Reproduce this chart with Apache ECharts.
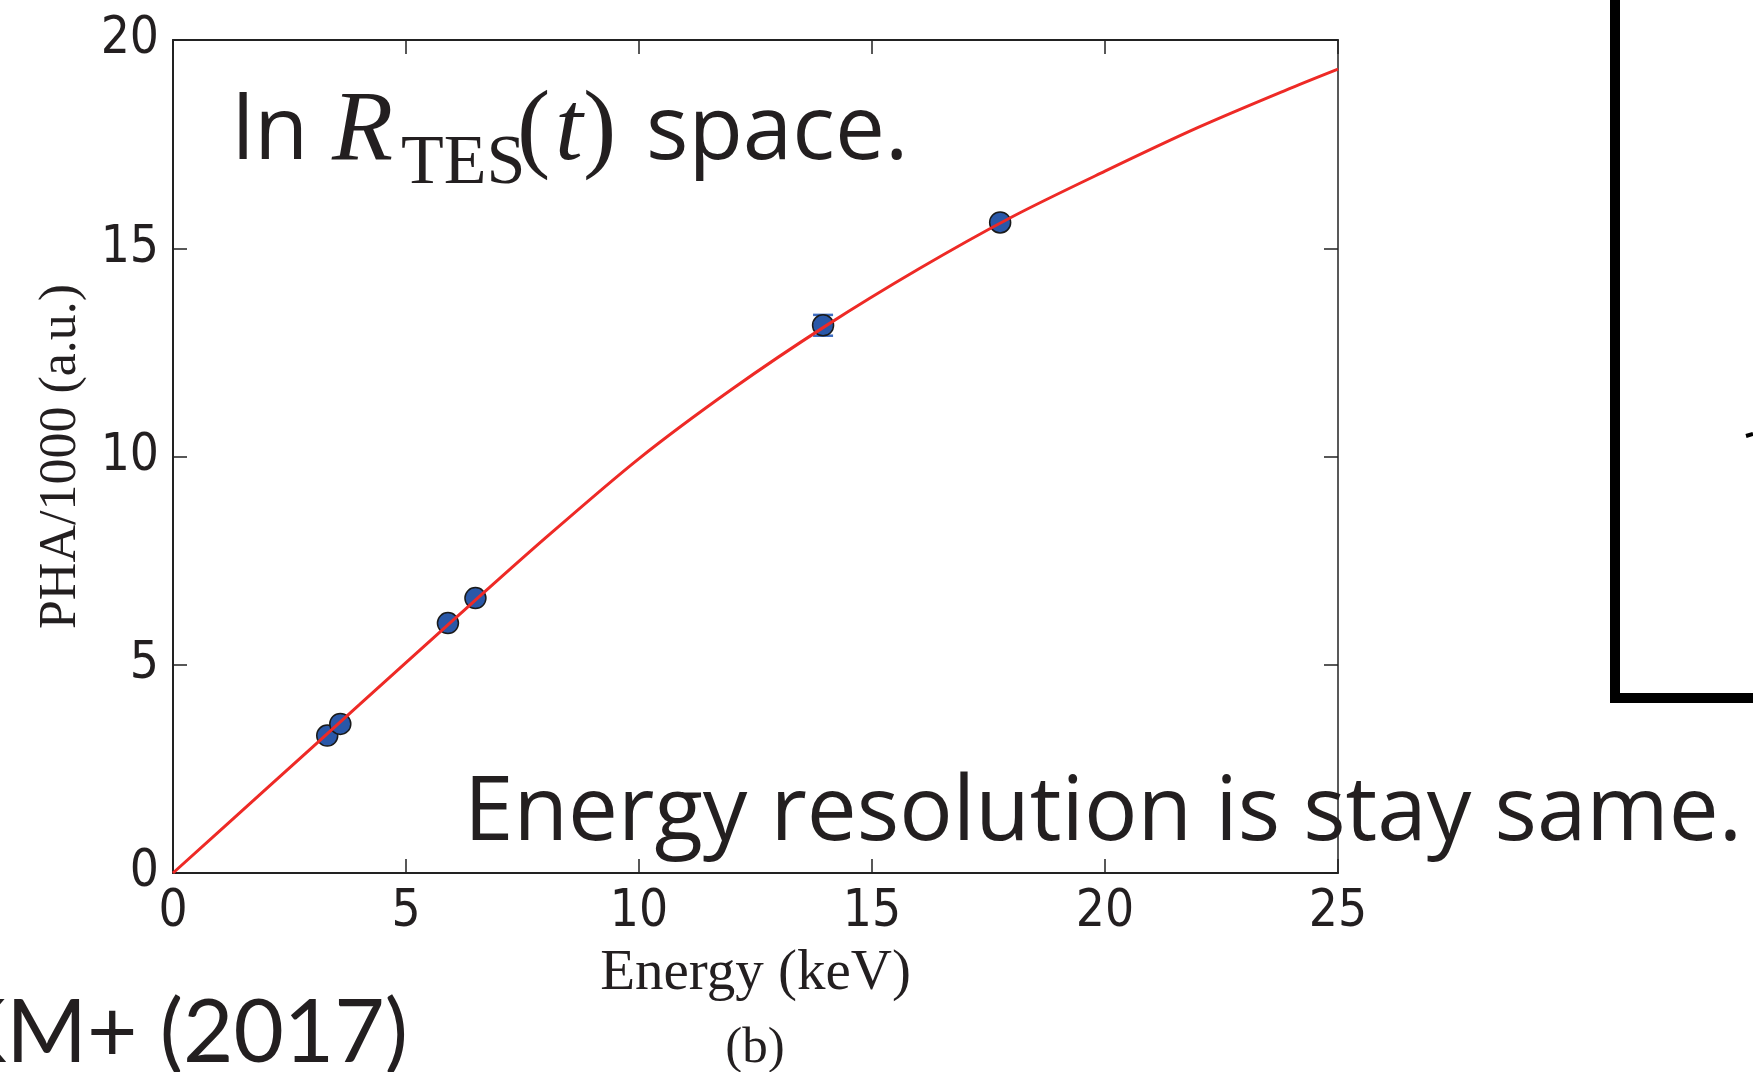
<!DOCTYPE html>
<html>
<head>
<meta charset="utf-8">
<script src="https://cdn.jsdelivr.net/npm/echarts@6/dist/echarts.min.js"></script>
<style>
    html, body { margin: 0; padding: 0; background: #fff; }
    #chart { width: 1753px; height: 1072px; }
</style>
</head>
<body>
<div id="chart"></div>
<script>
/*data*/
const pointEnergy = [3.31, 3.59, 5.90, 6.49, 13.95, 17.75];
const pointPha = [3.30, 3.58, 6.00, 6.60, 13.15, 15.62];
const pointErr = [0.05, 0.05, 0.05, 0.05, 0.25, 0.08];

const curveEnergy = [0, 2, 4, 6, 8, 10, 12, 14, 16, 18, 20, 22, 24, 25];
const curvePha = [0, 2.02, 4.04, 6.06, 8.05, 9.95, 11.62, 13.13, 14.5, 15.75, 16.85, 17.9, 18.85, 19.3];

const xTicks = [0, 5, 10, 15, 20, 25];
const yTicks = [0, 5, 10, 15, 20];

(function () {
    const el = document.getElementById('chart');
    const chart = echarts.init(el, null, {renderer: 'canvas'});

    const ink = '#231f20';
    const axisColor = '#222';
    const tickFont = '"DejaVu Sans Condensed", "DejaVu Sans", sans-serif';
    const serif = '"Liberation Serif", "DejaVu Serif", serif';
    const sans = '"Open Sans", Lato, sans-serif';
    const gill = 'Lato, "Open Sans", sans-serif';

    const points = pointEnergy.map(function (x, i) {
        return [x, pointPha[i]];
    });
    const errors = pointEnergy.map(function (x, i) {
        return [x, pointPha[i] - pointErr[i], pointPha[i] + pointErr[i]];
    });
    const curve = curveEnergy.map(function (x, i) {
        return [x, curvePha[i]];
    });

    function axisBase(lineWidth) {
        return {
            axisLine: {show: true, onZero: false, lineStyle: {color: axisColor, width: lineWidth}},
            axisTick: {show: true, inside: true, length: 14, lineStyle: {color: axisColor, width: 1.5}},
            splitLine: {show: false}
        };
    }

    const xRange = {type: 'value', min: xTicks[0], max: xTicks[xTicks.length - 1], interval: 5};
    const yRange = {type: 'value', min: yTicks[0], max: yTicks[yTicks.length - 1], interval: 5};

    function text(str, x, y, font, align) {
        return {
            type: 'text', x: x, y: y, z: 10,
            style: {text: str, font: font, fill: ink, textAlign: align || 'left', textVerticalAlign: 'middle'}
        };
    }

    const option = {
        animation: false,
        backgroundColor: '#fff',
        grid: {left: 173, top: 40, width: 1165, height: 833},
        xAxis: [
            Object.assign({}, xRange, axisBase(2), {
                position: 'bottom',
                name: 'Energy (keV)',
                nameLocation: 'middle',
                nameGap: 73,
                nameTextStyle: {fontFamily: serif, fontSize: 57, color: ink},
                axisLabel: {margin: 14, fontFamily: tickFont, fontSize: 51, color: ink}
            }),
            Object.assign({}, xRange, axisBase(2), {
                position: 'top',
                axisLabel: {show: false}
            })
        ],
        yAxis: [
            Object.assign({}, yRange, axisBase(2), {
                position: 'left',
                name: 'PHA/1000 (a.u.)',
                nameLocation: 'middle',
                nameRotate: 90,
                nameGap: 86,
                nameTextStyle: {fontFamily: serif, fontSize: 52, color: ink},
                axisLabel: {margin: 14, fontFamily: tickFont, fontSize: 51, color: ink}
            }),
            Object.assign({}, yRange, axisBase(1.5), {
                position: 'right',
                axisLabel: {show: false}
            })
        ],
        series: [
            {
                /*error bars*/
                type: 'custom',
                z: 1,
                data: errors,
                renderItem: function (params, api) {
                    const top = api.coord([api.value(0), api.value(2)]);
                    const bottom = api.coord([api.value(0), api.value(1)]);
                    const half = 10;
                    const style = {stroke: '#3d6cc0', lineWidth: 2.5};

                    return {
                        type: 'group',
                        children: [
                            {type: 'line', shape: {x1: top[0], y1: top[1], x2: bottom[0], y2: bottom[1]}, style: style},
                            {type: 'line', shape: {x1: top[0] - half, y1: top[1], x2: top[0] + half, y2: top[1]}, style: style},
                            {type: 'line', shape: {x1: bottom[0] - half, y1: bottom[1], x2: bottom[0] + half, y2: bottom[1]}, style: style}
                        ]
                    };
                }
            },
            {
                type: 'scatter',
                z: 2,
                data: points,
                symbol: 'circle',
                symbolSize: 21,
                itemStyle: {color: '#2a58a8', borderColor: '#1a1a1a', borderWidth: 1.5, opacity: 1}
            },
            {
                type: 'line',
                z: 3,
                data: curve,
                smooth: 0.3,
                showSymbol: false,
                lineStyle: {color: '#ee2a26', width: 3}
            }
        ],
        graphic: [
            /*title in plot*/
            text('ln', 232, 134, '88px ' + sans),
            text('R', 332, 133, 'italic 100px ' + serif),
            text('TES', 401, 165, '70px ' + serif),
            text('(', 517, 133, '100px ' + serif),
            text('t', 555, 133, 'italic 100px ' + serif),
            text(')', 583, 133, '100px ' + serif),
            text('space.', 646, 134, '89px ' + sans),

            /*slide texts*/
            text('Energy resolution is stay same.', 464, 815, '89px ' + sans),
            text('KM+ (2017)', 408, 1034, '87px ' + gill, 'right'),
            text('(b)', 755, 1049, '51px ' + serif, 'center'),

            /*frame on the right*/
            {type: 'polyline', shape: {points: [[1615, 0], [1615, 698], [1753, 698]]}, style: {stroke: '#000', lineWidth: 10, fill: null}},
            {type: 'line', shape: {x1: 1746, y1: 436, x2: 1753, y2: 434}, style: {stroke: '#000', lineWidth: 4}}
        ]
    };

    chart.setOption(option);

    window.addEventListener('resize', chart.resize.bind(chart));
})();
</script>
</body>
</html>
